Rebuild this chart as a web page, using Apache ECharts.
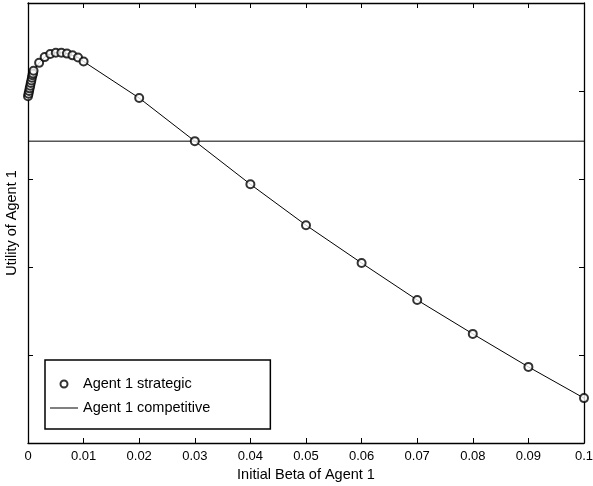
<!DOCTYPE html>
<html>
<head>
<meta charset="utf-8">
<script src="https://cdn.jsdelivr.net/npm/echarts@6/dist/echarts.min.js"></script>
<style>
  html, body { margin: 0; padding: 0; background: #fff; }
  #chart { width: 593px; height: 486px; }
</style>
</head>
<body>
<div id="chart"></div>
<script>
// initial beta of agent 1
const betaValues = [0, 0.0001, 0.0002, 0.0003, 0.0004, 0.0005, 0.0006, 0.0007, 0.0008, 0.0009, 0.001,
  0.002, 0.003, 0.004, 0.005, 0.006, 0.007, 0.008, 0.009, 0.01,
  0.02, 0.03, 0.04, 0.05, 0.06, 0.07, 0.08, 0.09, 0.1]
// utility (arbitrary units, y axis has no labels)
const strategicUtility = [3.94, 3.97, 4.0, 4.03, 4.06, 4.09, 4.12, 4.15, 4.18, 4.2, 4.23,
  4.32, 4.385, 4.42, 4.435, 4.435, 4.425, 4.405, 4.38, 4.335,
  3.92, 3.43, 2.94, 2.475, 2.045, 1.625, 1.24, 0.865, 0.51]
const competitiveUtility = 3.43
const xTicks = { min: 0, max: 0.1, interval: 0.01 }
const yTicks = { min: 0, max: 5, interval: 1 }

const font = 'Arial, "Liberation Sans", sans-serif'
const strategicData = betaValues.map((b, i) => [b, strategicUtility[i]])

const chart = echarts.init(document.getElementById('chart'))

const axisBase = {
  type: 'value',
  axisLine: { show: true, onZero: false, lineStyle: { color: '#000', width: 1.3 } },
  axisTick: { show: true, inside: true, length: 5, lineStyle: { color: '#000', width: 1 } },
  splitLine: { show: false }
}

chart.setOption({
  animation: false,
  backgroundColor: '#fff',
  grid: { left: 28, right: 9, top: 3, bottom: 43, containLabel: false, outerBoundsMode: 'none' },
  legend: {
    orient: 'vertical',
    left: 45,
    top: 360,
    padding: [16, 60, 13, 5],
    itemGap: 8,
    itemWidth: 28,
    itemHeight: 7,
    symbolKeepAspect: true,
    borderColor: '#000',
    borderWidth: 1.5,
    borderRadius: 0,
    backgroundColor: '#fff',
    textStyle: { color: '#000', fontSize: 14.5, lineHeight: 16, fontFamily: font },
    data: [
      { name: 'Agent 1 strategic' },
      { name: 'Agent 1 competitive', icon: 'path://M0,0h28v1h-28z' }
    ]
  },
  xAxis: [
    Object.assign({}, axisBase, {
      min: xTicks.min, max: xTicks.max, interval: xTicks.interval,
      name: 'Initial Beta of Agent 1',
      nameLocation: 'middle',
      nameGap: 21,
      nameTextStyle: { color: '#000', fontSize: 14.5, fontFamily: font },
      axisLabel: { color: '#000', fontSize: 13, fontFamily: font, margin: 7 }
    }),
    Object.assign({}, axisBase, {
      position: 'top',
      min: xTicks.min, max: xTicks.max, interval: xTicks.interval,
      axisLabel: { show: false }
    })
  ],
  yAxis: [
    Object.assign({}, axisBase, {
      min: yTicks.min, max: yTicks.max, interval: yTicks.interval,
      name: 'Utility of Agent 1',
      nameLocation: 'middle',
      nameGap: 9,
      nameTextStyle: { color: '#000', fontSize: 14.5, fontFamily: font },
      axisLabel: { show: false }
    }),
    Object.assign({}, axisBase, {
      position: 'right',
      min: yTicks.min, max: yTicks.max, interval: yTicks.interval,
      axisLabel: { show: false }
    })
  ],
  series: [
    {
      name: 'strategic-line',
      type: 'line',
      data: strategicData,
      showSymbol: false,
      lineStyle: { color: '#000', width: 1 },
      z: 2
    },
    {
      name: 'Agent 1 strategic',
      type: 'scatter',
      data: strategicData,
      symbol: 'emptyCircle',
      symbolSize: 8,
      itemStyle: { color: '#000', borderWidth: 0.8 },
      z: 3
    },
    {
      name: 'Agent 1 competitive',
      type: 'line',
      data: [[xTicks.min, competitiveUtility], [xTicks.max, competitiveUtility]],
      symbol: 'none',
      itemStyle: { color: '#000' },
      lineStyle: { color: '#000', width: 1 },
      z: 2
    }
  ]
})
</script>
</body>
</html>
